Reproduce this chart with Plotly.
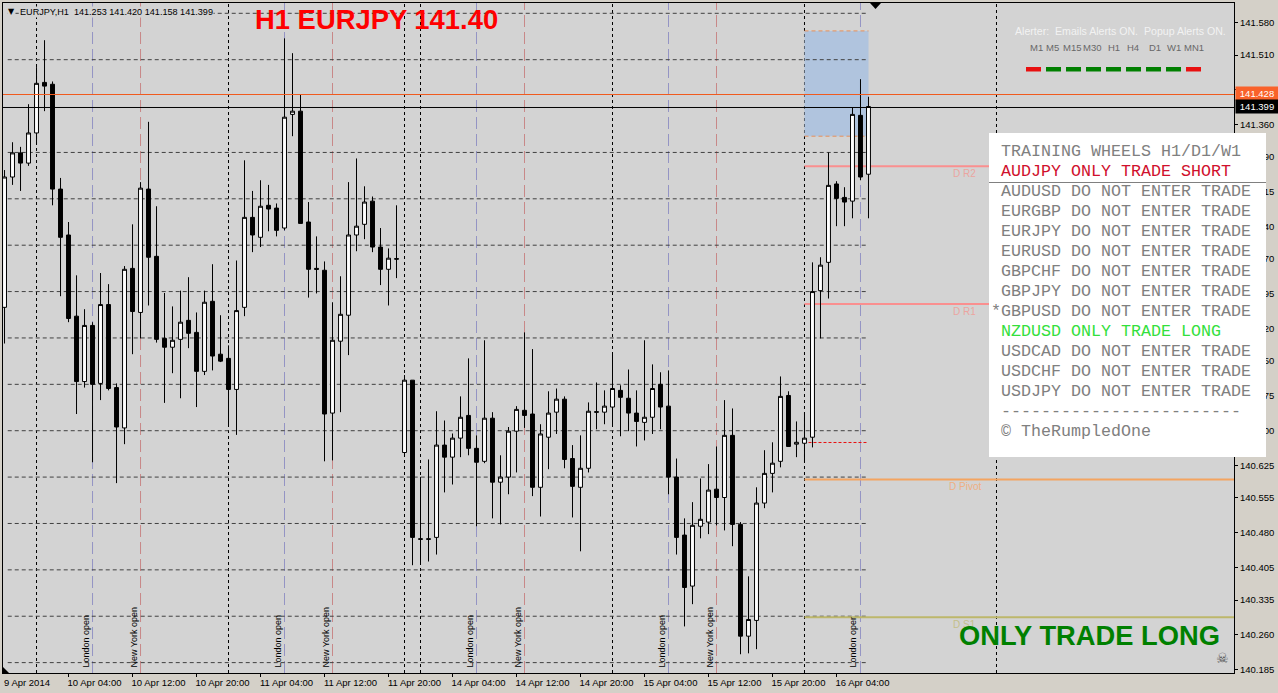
import plotly.graph_objects as go

# H1 bars
opens = [140.966, 141.247, 141.299, 141.277, 141.342, 141.451, 141.447, 141.221, 141.122, 140.947,
         140.806, 140.927, 140.802, 140.972, 140.793, 140.706, 141.050, 140.955, 141.221, 141.076,
         140.899, 140.880, 140.897, 140.938, 140.912, 140.828, 140.979, 140.865, 140.856, 140.789,
         140.966, 141.160, 141.117, 141.186, 141.180, 141.137, 141.382, 141.389, 141.150, 141.050,
         141.046, 140.738, 140.893, 140.949, 141.122, 141.145, 141.195, 141.096, 141.048, 141.071,
         140.653, 140.809, 140.467, 140.467, 140.470, 140.669, 140.643, 140.684, 140.733, 140.662,
         140.634, 140.727, 140.589, 140.600, 140.699, 140.744, 140.736, 140.578, 140.686, 140.740,
         140.768, 140.640, 140.578, 140.619, 140.741, 140.740, 140.751, 140.787, 140.770, 140.738,
         140.718, 140.729, 140.800, 140.753, 140.600, 140.475, 140.365, 140.494, 140.503, 140.574,
         140.556, 140.690, 140.498, 140.257, 140.291, 140.544, 140.608, 140.634, 140.776, 140.671,
         140.673, 140.686, 141.002, 141.063, 141.232, 141.203, 141.195, 141.380, 141.253]
highs = [141.262, 141.322, 141.312, 141.404, 141.484, 141.542, 141.453, 141.245, 141.150, 141.035,
         140.962, 140.934, 141.040, 141.016, 140.802, 141.055, 141.145, 141.236, 141.366, 141.184,
         140.997, 140.968, 141.002, 141.031, 140.955, 141.002, 141.059, 140.949, 140.884, 141.067,
         141.283, 141.217, 141.240, 141.230, 141.190, 141.546, 141.514, 141.425, 141.193, 141.119,
         141.065, 140.977, 141.033, 141.236, 141.287, 141.227, 141.205, 141.137, 141.093, 141.186,
         140.820, 140.809, 140.600, 140.638, 140.742, 140.722, 140.694, 140.774, 140.856, 140.690,
         140.895, 140.740, 140.647, 140.708, 140.753, 140.912, 140.876, 140.714, 140.785, 140.791,
         140.774, 140.669, 140.690, 140.761, 140.804, 140.787, 140.869, 140.798, 140.832, 140.787,
         140.895, 140.843, 140.826, 140.830, 140.640, 140.511, 140.546, 140.597, 140.628, 140.666,
         140.766, 140.748, 140.503, 140.386, 140.578, 140.658, 140.675, 140.817, 140.785, 140.720,
         140.740, 141.063, 141.074, 141.300, 141.238, 141.225, 141.397, 141.458, 141.420]
lows = [140.888, 141.230, 141.217, 141.271, 141.318, 141.389, 141.186, 140.990, 140.934, 140.736,
        140.793, 140.632, 140.766, 140.787, 140.587, 140.671, 140.865, 140.899, 140.970, 140.890,
        140.760, 140.824, 140.770, 140.878, 140.751, 140.820, 140.830, 140.848, 140.710, 140.691,
        140.947, 141.085, 141.096, 141.130, 141.119, 141.132, 141.335, 141.147, 140.987, 140.996,
        140.634, 140.636, 140.740, 140.863, 141.087, 141.113, 141.085, 141.014, 140.970, 141.029,
        140.644, 140.410, 140.414, 140.418, 140.433, 140.567, 140.584, 140.643, 140.647, 140.494,
        140.630, 140.511, 140.498, 140.563, 140.610, 140.706, 140.559, 140.515, 140.617, 140.693,
        140.619, 140.513, 140.440, 140.610, 140.703, 140.714, 140.712, 140.688, 140.699, 140.666,
        140.679, 140.693, 140.703, 140.563, 140.433, 140.278, 140.326, 140.468, 140.477, 140.496,
        140.485, 140.451, 140.218, 140.220, 140.229, 140.533, 140.567, 140.621, 140.666, 140.643,
        140.632, 140.664, 140.899, 140.985, 141.141, 141.141, 141.158, 141.240, 141.158]
closes = [141.247, 141.299, 141.277, 141.342, 141.449, 141.443, 141.221, 141.117, 140.942, 140.806,
          140.927, 140.800, 140.972, 140.791, 140.708, 141.048, 140.957, 141.223, 141.074, 140.897,
          140.880, 140.895, 140.934, 140.910, 140.828, 140.977, 140.861, 140.850, 140.789, 140.959,
          141.160, 141.122, 141.184, 141.178, 141.132, 141.376, 141.389, 141.147, 141.048, 141.048,
          140.736, 140.895, 140.951, 141.122, 141.141, 141.193, 141.096, 141.048, 141.072, 141.070,
          140.809, 140.470, 140.466, 140.466, 140.669, 140.643, 140.684, 140.729, 140.662, 140.632,
          140.727, 140.589, 140.600, 140.699, 140.746, 140.733, 140.578, 140.693, 140.738, 140.768,
          140.638, 140.580, 140.619, 140.742, 140.740, 140.753, 140.791, 140.772, 140.738, 140.720,
          140.729, 140.791, 140.751, 140.600, 140.470, 140.362, 140.496, 140.509, 140.572, 140.556,
          140.690, 140.498, 140.257, 140.293, 140.544, 140.608, 140.630, 140.774, 140.666, 140.675,
          140.684, 141.000, 141.057, 141.229, 141.201, 141.193, 141.382, 141.247, 141.399]
bars = list(range(len(opens)))

price_ticks = [141.580, 141.510, 141.435, 141.360, 141.290, 141.215, 141.140, 141.070, 140.995, 140.920,
               140.850, 140.775, 140.700, 140.625, 140.555, 140.480, 140.405, 140.335, 140.260, 140.185]
time_tick_bars = [8, 16, 24, 32, 40, 48, 56, 64, 72, 80, 88, 96, 104]
time_tick_labels = ['10 Apr 04:00', '10 Apr 12:00', '10 Apr 20:00', '11 Apr 04:00', '11 Apr 12:00',
                    '11 Apr 20:00', '14 Apr 04:00', '14 Apr 12:00', '14 Apr 20:00', '15 Apr 04:00',
                    '15 Apr 12:00', '15 Apr 20:00', '16 Apr 04:00']

# the 141.4 line is hidden under the bid line in the picture
grid_prices = [141.6, 141.5, 141.3, 141.2, 141.1, 141.0, 140.9, 140.8, 140.7, 140.6, 140.5, 140.4, 140.3, 140.2]
separator_bars = [4, 28, 50, 52, 76, 100, 124]
london_bars = [11, 35, 59, 83, 107]
london_labels = ['London open', 'London open', 'London open', 'London open', 'London oper']
newyork_bars = [17, 41, 65, 89]

pivot_names = ['D R2', 'D R1', 'D Pivot', 'D S1']
pivot_prices = [141.270, 140.973, 140.595, 140.298]
pivot_colors = ['#fa8f8f', '#fa8f8f', '#f4a460', '#bdb76b']
pivot_text_colors = ['#eba5a0', '#eba5a0', '#eeb083', '#c4bf8a']

zone_top = 141.562
zone_bottom = 141.335
zone_first_bar = 100
stop_price = 140.6746
# where the two price lines sit on this price scale
ask_line = 141.4249
bid_line = 141.3969

timeframes = ['M1', 'M5', 'M15', 'M30', 'H1', 'H4', 'D1', 'W1', 'MN1']
timeframe_px = [1036, 1052, 1072, 1092, 1114, 1133, 1155, 1174, 1194]
timeframe_signal = ['#e81010', '#008000', '#008000', '#008000', '#008000', '#008000', '#008000', '#008000', '#e81010']

panel_rows = [('TRAINING WHEELS H1/D1/W1', '#808080'),
              ('AUDJPY ONLY TRADE SHORT', '#d0102c'),
              ('AUDUSD DO NOT ENTER TRADE', '#808080'),
              ('EURGBP DO NOT ENTER TRADE', '#808080'),
              ('EURJPY DO NOT ENTER TRADE', '#808080'),
              ('EURUSD DO NOT ENTER TRADE', '#808080'),
              ('GBPCHF DO NOT ENTER TRADE', '#808080'),
              ('GBPJPY DO NOT ENTER TRADE', '#808080'),
              ('GBPUSD DO NOT ENTER TRADE', '#808080'),
              ('NZDUSD ONLY TRADE LONG', '#33e03c'),
              ('USDCAD DO NOT ENTER TRADE', '#808080'),
              ('USDCHF DO NOT ENTER TRADE', '#808080'),
              ('USDJPY DO NOT ENTER TRADE', '#808080'),
              ('------------------------', '#808080'),
              ('© TheRumpledOne', '#808080')]

# plot box in page pixels
LEFT, RIGHT, TOP, BOTTOM = 3, 1234, 3, 673
SANS = 'Liberation Sans'
CHART_BG = '#d3d3d3'


def px_x(px):
    return (px - LEFT) / (RIGHT - LEFT)


def px_y(py):
    return (BOTTOM - py) / (BOTTOM - TOP)


def label(text, x, y, size=9.5, color='black', family=SANS, xanchor='left', **kw):
    return dict(text=text, x=px_x(x), y=px_y(y), xref='paper', yref='paper', showarrow=False,
                xanchor=xanchor, yanchor='middle', font=dict(family=family, size=size, color=color),
                borderpad=0, **kw)


def box(x0, y0, x1, y1, color):
    return dict(type='rect', xref='paper', yref='paper', x0=px_x(x0), x1=px_x(x1), y0=px_y(y0), y1=px_y(y1),
                fillcolor=color, line=dict(width=0), layer='above')


def triangle(points, color='black'):
    path = 'M ' + ' L '.join(f'{px_x(x)} {px_y(y)}' for x, y in points) + ' Z'
    return dict(type='path', xref='paper', yref='paper', path=path, fillcolor=color, line=dict(width=0), layer='above')


shapes = []
# zone and grid go under the candles
shapes.append(dict(type='rect', xref='x', yref='y', x0=zone_first_bar, x1=bars[-1], y0=zone_bottom, y1=zone_top,
                   fillcolor='#b0c4de', line=dict(width=0), layer='below'))
for p in [zone_top, zone_bottom]:
    shapes.append(dict(type='line', xref='x', yref='y', x0=zone_first_bar, x1=bars[-1], y0=p, y1=p,
                       line=dict(color='#e8905a', width=1, dash='4px,3px'), layer='below'))
for p in grid_prices:
    shapes.append(dict(type='line', xref='x', yref='y', x0=0.4, x1=bars[-1], y0=p, y1=p,
                       line=dict(color='#404040', width=1, dash='4px,3px'), layer='below'))
for b in separator_bars:
    shapes.append(dict(type='line', xref='x', yref='paper', x0=b, x1=b, y0=0, y1=1,
                       line=dict(color='black', width=1, dash='3px,3px'), layer='below'))
for b in london_bars:
    shapes.append(dict(type='line', xref='x', yref='paper', x0=b, x1=b, y0=0, y1=1,
                       line=dict(color='#9494c4', width=1, dash='12px,5px'), layer='below'))
for b in newyork_bars:
    shapes.append(dict(type='line', xref='x', yref='paper', x0=b, x1=b, y0=0, y1=1,
                       line=dict(color='#c88888', width=1, dash='12px,5px'), layer='below'))
for p, c in zip(pivot_prices, pivot_colors):
    shapes.append(dict(type='line', xref='x', yref='y', x0=zone_first_bar, x1=153.7, y0=p, y1=p,
                       line=dict(color=c, width=2), layer='below'))
shapes.append(dict(type='line', xref='x', yref='y', x0=zone_first_bar + 0.5, x1=bars[-1], y0=stop_price, y1=stop_price,
                   line=dict(color='#e81010', width=1, dash='3px,2px'), layer='below'))
# price lines run over the bars
shapes.append(dict(type='line', xref='paper', yref='y', x0=0, x1=1, y0=ask_line, y1=ask_line,
                   line=dict(color='#f05a1e', width=1), layer='above'))
shapes.append(dict(type='line', xref='paper', yref='y', x0=0, x1=1, y0=bid_line, y1=bid_line,
                   line=dict(color='black', width=1), layer='above'))
# shift marker at the top, scale-fix corner at the bottom
shapes.append(triangle([(870, 3), (881, 3), (875.5, 9)]))
shapes.append(triangle([(3, 667), (3, 673), (9, 673)]))
# strength dashes
for n, c in enumerate(timeframe_signal):
    start = 1026 + 20 * n
    shapes.append(box(start, 67, start + 15, 71.5, c))
# white panel sits on top of everything, price labels too
shapes.append(box(989, 133, 1266, 457, 'white'))
shapes.append(dict(type='line', xref='paper', yref='paper', x0=px_x(989), x1=px_x(1266), y0=px_y(182.5), y1=px_y(182.5),
                   line=dict(color='#808080', width=1), layer='above'))

annotations = []
for b, t in zip(london_bars, london_labels):
    annotations.append(dict(text=t, x=b, y=px_y(669.5), xref='x', yref='paper', xshift=-7, textangle=-90, showarrow=False,
                            xanchor='center', yanchor='bottom', font=dict(family=SANS, size=9, color='black')))
for b in newyork_bars:
    annotations.append(dict(text='New York open', x=b, y=px_y(669.5), xref='x', yref='paper', xshift=-7, textangle=-90,
                            showarrow=False, xanchor='center', yanchor='bottom',
                            font=dict(family=SANS, size=9, color='black')))
for name, p, c in zip(pivot_names, pivot_prices, pivot_text_colors):
    annotations.append(dict(text=name, x=px_x(964.5), y=p, xref='paper', yref='y', yshift=-7.5, showarrow=False,
                            xanchor='center', yanchor='middle', font=dict(family=SANS, size=10, color=c)))
annotations.append(label('▼', 7, 11, size=8, family='DejaVu Sans', bgcolor=CHART_BG))
annotations.append(label('EURJPY,H1\u00a0\u00a0141.253 141.420 141.158 141.399', 19, 11.5, size=9.1, bgcolor=CHART_BG))
annotations.append(label('9 Apr 2014', 3, 682.5, size=9.5))
annotations.append(label('<b>H1 EURJPY 141.40</b>', 254, 20, size=27.4, color='#ff0000'))
annotations.append(label('<b>ONLY TRADE LONG</b>', 958, 635, size=27.3, color='#008000'))
annotations.append(label('Alerter:\u00a0\u00a0Emails Alerts ON.\u00a0\u00a0Popup Alerts ON.', 1014, 31, size=10.6, color='#f2f2f2'))
for t, px in zip(timeframes, timeframe_px):
    annotations.append(label(t, px, 47, size=9.5, color='#686868', xanchor='center'))
annotations.append(label('☠', 1222, 658, size=14, color='#505050', xanchor='center', family='DejaVu Sans'))
annotations.append(label('141.428', 1235, 93.5, size=9.5, color='white', bgcolor='#f9622a', width=42, height=13, align='center'))
annotations.append(label('141.399', 1235, 106.5, size=9.5, color='white', bgcolor='black', width=42, height=13, align='center'))
for n, (t, c) in enumerate(panel_rows):
    annotations.append(label(t, 999.5, 151.5 + 20 * n, size=16.67, color=c, family='Liberation Mono'))
annotations.append(label('*', 989.5, 311.5, size=16.67, color='#808080', family='Liberation Mono'))

fig = go.Figure(go.Candlestick(
    x=bars, open=opens, high=highs, low=lows, close=closes, whiskerwidth=0,
    increasing=dict(fillcolor='white', line=dict(color='black', width=1)),
    decreasing=dict(fillcolor='black', line=dict(color='black', width=1)),
    showlegend=False))

fig.update_layout(width=1278, height=693, autosize=False, margin=dict(l=LEFT, r=1278 - RIGHT, t=TOP, b=693 - BOTTOM, pad=0),
                  paper_bgcolor='#d4d0c8', plot_bgcolor=CHART_BG, showlegend=False,
                  font=dict(family=SANS, size=9.5, color='black'), shapes=shapes, annotations=annotations)
fig.update_xaxes(range=[-0.19, 153.69], rangeslider_visible=False, showgrid=False, zeroline=False,
                 showline=True, linecolor='black', linewidth=1, mirror=True,
                 tickmode='array', tickvals=time_tick_bars, ticktext=time_tick_labels, ticks='outside', ticklen=3,
                 tickcolor='black', ticklabelshift=26, ticklabelstandoff=-2, tickangle=0)
fig.update_yaxes(range=[140.1776, 141.6222], side='right', showgrid=False, zeroline=False,
                 showline=True, linecolor='black', linewidth=1, mirror=True,
                 tickmode='array', tickvals=price_ticks, tickformat='.3f', ticks='outside', ticklen=3, tickcolor='black')

fig.write_html("out.html", config={'displayModeBar': False},
               post_script="document.body.style.margin='0';document.body.style.overflow='hidden';")
